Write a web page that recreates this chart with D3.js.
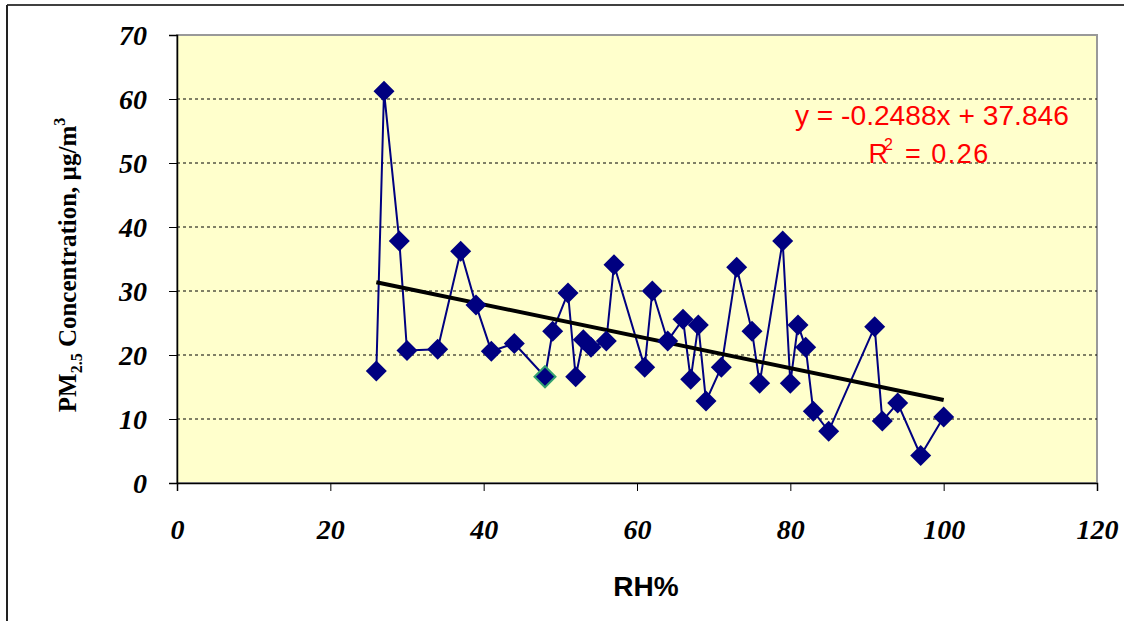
<!DOCTYPE html>
<html>
<head>
  <title>PM2.5 vs RH</title>
  <style>
    body { margin: 0; background: #fff; }
    svg { display: block; }
    .tick text { font-family: "Liberation Serif", "Times New Roman", serif; font-weight: bold; font-style: italic; font-size: 28px; fill: #000; }
  </style>
</head>
<body>
  <svg width="1124" height="621"></svg>
  <script src="https://d3js.org/d3.v7.min.js"></script>
  <script>
    // RH% and PM2.5 readings, in the order they are joined
    const rh = [26, 27, 29, 30, 34, 37, 39, 41, 44, 48, 49, 51, 52, 53, 54, 56, 57, 61, 62, 64,
                66, 67, 68, 69, 71, 73, 75, 76, 79, 80, 81, 82, 83, 85, 91, 92, 94, 97, 100];
    const pm = [17.5, 61.2, 37.8, 20.7, 20.9, 36.2, 27.8, 20.6, 21.8, 16.6, 23.7, 29.7, 16.6, 22.4, 21.2, 22.2, 34.1, 18.1, 30.0, 22.2,
                25.6, 16.2, 24.7, 12.8, 18.1, 33.7, 23.7, 15.6, 37.8, 15.6, 24.7, 21.2, 11.2, 8.1, 24.4, 9.7, 12.5, 4.3, 10.3];
    const xTicks = [0, 20, 40, 60, 80, 100, 120];
    const yTicks = [0, 10, 20, 30, 40, 50, 60, 70];
    const slope = -0.2488, intercept = 37.846;
    const highlighted = 48;

    const data = rh.map((x, i) => ({x: x, y: pm[i]}));

    const svg = d3.select("svg");
    const margin = {top: 35, right: 27, bottom: 138, left: 177};
    const width = 1124 - margin.left - margin.right,
          height = 621 - margin.top - margin.bottom;

    // outer frame (top and left edges only visible)
    svg.append("line").attr("x1", 7).attr("x2", 1124).attr("y1", 5).attr("y2", 5)
      .attr("stroke", "#000").attr("stroke-width", 1.5);
    svg.append("line").attr("x1", 7).attr("x2", 7).attr("y1", 5).attr("y2", 621)
      .attr("stroke", "#222").attr("stroke-width", 2);

    const x = d3.scaleLinear().domain([0, 120]).range([0, width]);
    const y = d3.scaleLinear().domain([0, 70]).range([height, 0]);

    const g = svg.append("g").attr("transform", "translate(" + margin.left + "," + margin.top + ")");

    g.append("rect").attr("width", width).attr("height", height)
      .attr("fill", "#FFFFCC").attr("stroke", "#999").attr("stroke-width", 2);

    // dashed gridlines
    g.selectAll(".grid")
      .data(yTicks.filter(d => d > 0 && d < 70))
      .enter().append("line")
      .attr("x1", 0).attr("x2", width)
      .attr("y1", d => y(d)).attr("y2", d => y(d))
      .attr("stroke", "#000").attr("stroke-width", 1).attr("stroke-dasharray", "3,3");

    // axes
    const xAxis = g.append("g")
      .attr("transform", "translate(0," + height + ")")
      .call(d3.axisBottom(x).tickValues(xTicks).tickSize(8).tickPadding(28));
    xAxis.select(".domain").attr("stroke", "#000").attr("stroke-width", 1.5);

    const yAxis = g.append("g")
      .call(d3.axisLeft(y).tickValues(yTicks).tickSize(8).tickPadding(22));
    yAxis.select(".domain").attr("stroke", "#000").attr("stroke-width", 1.5);
    yAxis.selectAll(".tick text").attr("dy", "0.35em");

    // data line
    g.append("path")
      .datum(data)
      .attr("fill", "none")
      .attr("stroke", "#000080")
      .attr("stroke-width", 2)
      .attr("d", d3.line().x(d => x(d.x)).y(d => y(d.y)));

    // trend line
    const xMin = d3.min(rh), xMax = d3.max(rh);
    g.append("line")
      .attr("x1", x(xMin)).attr("y1", y(slope * xMin + intercept))
      .attr("x2", x(xMax)).attr("y2", y(slope * xMax + intercept))
      .attr("stroke", "#000").attr("stroke-width", 4);

    // diamond markers
    g.selectAll(".dot")
      .data(data)
      .enter().append("path")
      .attr("class", "dot")
      .attr("transform", d => "translate(" + x(d.x) + "," + y(d.y) + ")")
      .attr("d", "M0,-10.5L10.5,0L0,10.5L-10.5,0Z")
      .attr("fill", "#000080")
      .attr("stroke", d => d.x === highlighted ? "#33A070" : "none")
      .attr("stroke-width", 2);

    // equation
    g.append("text")
      .attr("x", x(80.6)).attr("y", 90)
      .attr("font-family", "Liberation Sans, Arial, sans-serif")
      .attr("font-size", 27)
      .attr("fill", "#FF0000")
      .attr("textLength", 274).attr("lengthAdjust", "spacingAndGlyphs")
      .text("y = -0.2488x + 37.846");
    const r2 = g.append("text")
      .attr("x", x(90.2)).attr("y", 128)
      .attr("font-family", "Liberation Sans, Arial, sans-serif")
      .attr("font-size", 27)
      .attr("fill", "#FF0000");
    r2.append("tspan").text("R");
    r2.append("tspan").attr("font-size", 16).attr("dy", -13).attr("dx", -4).text("2");
    r2.append("tspan").attr("dy", 13).attr("dx", 3).attr("letter-spacing", 1.5).text(" = 0.26");

    // axis titles
    svg.append("text")
      .attr("x", 646).attr("y", 596)
      .attr("text-anchor", "middle")
      .attr("font-family", "Liberation Sans, Arial, sans-serif")
      .attr("font-weight", "bold")
      .attr("font-size", 28)
      .text("RH%");

    const yt = svg.append("text")
      .attr("transform", "translate(76,265) rotate(-90)")
      .attr("text-anchor", "middle")
      .attr("font-family", "Liberation Serif, Times New Roman, serif")
      .attr("font-weight", "bold")
      .attr("font-size", 25);
    yt.append("tspan").text("PM");
    yt.append("tspan").attr("font-size", 16).attr("dy", 6).text("2.5");
    yt.append("tspan").attr("dy", -6).text("  Concentration, µg/m");
    yt.append("tspan").attr("font-size", 16).attr("dy", -11).text("3");
  </script>
</body>
</html>
